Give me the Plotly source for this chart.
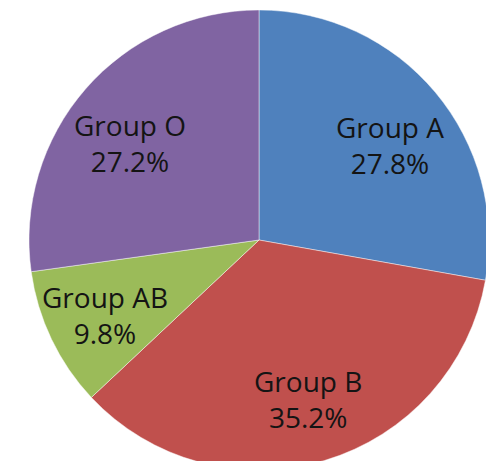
import math
import plotly.graph_objects as go

groups = ["Group A", "Group B", "Group AB", "Group O"]
percents = [27.8, 35.2, 9.8, 27.2]
colors = ["#4F81BD", "#C0504D", "#9BBB59", "#8064A2"]
texts = [f"{g}<br>{p:.1f}%" for g, p in zip(groups, percents)]

W, H = 494, 470
CX, CY, R = 251, 232, 230  # pie centre and radius in figure pixels
LABEL_R = 0.69 * R
STRETCH = 1.075

fig = go.Figure(go.Pie(
    labels=groups,
    values=percents,
    textinfo="none",
    sort=False,
    direction="clockwise",
    rotation=0,
    marker=dict(colors=colors, line=dict(color="rgba(255,255,255,0.45)", width=1)),
    domain=dict(x=[(CX - R) / W, (CX + R) / W], y=[1 - (CY + R) / H, 1 - (CY - R) / H]),
    showlegend=False,
    hoverinfo="label+percent",
))

# labels at the middle angle of each slice
total = sum(percents)
start = 90.0
annotations = []
for t, p in zip(texts, percents):
    sweep = 360.0 * p / total
    mid = math.radians(start - sweep / 2)
    start -= sweep
    px = CX + STRETCH * LABEL_R * math.cos(mid)
    py = CY - LABEL_R * math.sin(mid)
    annotations.append(dict(
        x=px / W, y=1 - py / H, xref="paper", yref="paper",
        text=t, showarrow=False, xanchor="center", yanchor="middle",
        yshift=-7,
        font=dict(family="Open Sans", size=28, color="#141414"),
    ))

fig.update_layout(
    width=W, height=H,
    margin=dict(l=0, r=0, t=0, b=0),
    paper_bgcolor="white",
    annotations=annotations,
)
fig.write_html("out.html")
